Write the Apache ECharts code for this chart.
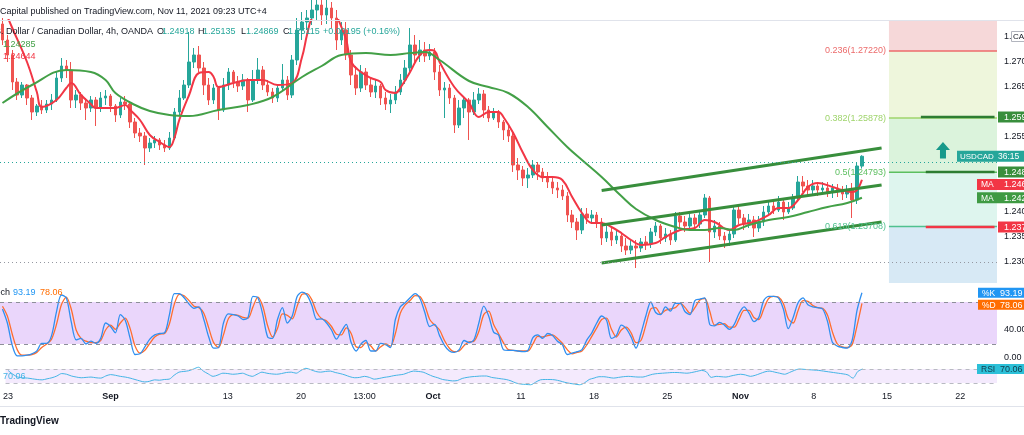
<!DOCTYPE html>
<html><head><meta charset="utf-8">
<script src="https://cdn.jsdelivr.net/npm/echarts@6/dist/echarts.min.js"></script>
<style>html,body{margin:0;padding:0;background:#fff;}#c{width:1024px;height:435px;}</style>
</head><body><div id="c"></div>
<script>
const FONT = "'Liberation Sans', Arial, sans-serif";
const SLOT_COUNT = 203; // 8h slots from Aug 23 to past Nov 22
const timeTicks = [[0,'23'],[21,'Sep'],[45,'13'],[60,'20'],[73,'13:00'],[87,'Oct'],[105,'11'],[120,'18'],[135,'25'],[150,'Nov'],[165,'8'],[180,'15'],[195,'22']];
const monthLabels = ['Sep','Oct','Nov'];

// [open, close, low, high]
const candles = [
[1.2776,1.2744,1.2734,1.2788],[1.2744,1.2714,1.2700,1.2754],[1.2714,1.2660,1.2644,1.2724],[1.2660,1.2634,1.2624,1.2668],[1.2634,1.2654,1.2628,1.2660],
[1.2654,1.2628,1.2614,1.2656],[1.2628,1.2600,1.2584,1.2634],[1.2600,1.2612,1.2592,1.2616],[1.2612,1.2604,1.2596,1.2624],[1.2604,1.2616,1.2598,1.2624],
[1.2616,1.2624,1.2604,1.2636],[1.2624,1.2668,1.2620,1.2680],[1.2668,1.2692,1.2660,1.2708],[1.2692,1.2684,1.2668,1.2704],[1.2684,1.2624,1.2608,1.2700],
[1.2624,1.2634,1.2608,1.2644],[1.2634,1.2618,1.2604,1.2640],[1.2618,1.2608,1.2584,1.2628],[1.2608,1.2624,1.2600,1.2632],[1.2624,1.2608,1.2572,1.2630],
[1.2608,1.2628,1.2600,1.2640],[1.2628,1.2632,1.2614,1.2644],[1.2632,1.2612,1.2600,1.2636],[1.2612,1.2594,1.2580,1.2616],[1.2594,1.2620,1.2588,1.2628],
[1.2620,1.2616,1.2604,1.2632],[1.2616,1.2580,1.2568,1.2620],[1.2580,1.2558,1.2548,1.2588],[1.2558,1.2552,1.2540,1.2568],[1.2552,1.2528,1.2494,1.2560],
[1.2528,1.2538,1.2520,1.2548],[1.2538,1.2544,1.2528,1.2552],[1.2544,1.2534,1.2524,1.2548],[1.2534,1.2528,1.2520,1.2544],[1.2528,1.2548,1.2524,1.2560],
[1.2548,1.2600,1.2544,1.2608],[1.2600,1.2628,1.2594,1.2644],[1.2628,1.2654,1.2624,1.2664],[1.2654,1.2700,1.2648,1.2760],[1.2700,1.2714,1.2688,1.2728],
[1.2714,1.2688,1.2680,1.2732],[1.2688,1.2654,1.2634,1.2700],[1.2654,1.2624,1.2614,1.2668],[1.2624,1.2648,1.2616,1.2656],[1.2648,1.2604,1.2584,1.2652],
[1.2604,1.2654,1.2600,1.2668],[1.2654,1.2680,1.2644,1.2688],[1.2680,1.2660,1.2648,1.2684],[1.2660,1.2652,1.2640,1.2672],[1.2652,1.2664,1.2644,1.2676],
[1.2664,1.2624,1.2600,1.2668],[1.2624,1.2664,1.2620,1.2684],[1.2664,1.2684,1.2656,1.2708],[1.2684,1.2654,1.2644,1.2692],[1.2654,1.2640,1.2632,1.2664],
[1.2640,1.2628,1.2618,1.2648],[1.2628,1.2648,1.2620,1.2656],[1.2648,1.2664,1.2644,1.2696],[1.2664,1.2634,1.2624,1.2672],[1.2634,1.2704,1.2628,1.2714],
[1.2704,1.2764,1.2694,1.2788],[1.2764,1.2780,1.2744,1.2800],[1.2780,1.2788,1.2764,1.2804],[1.2788,1.2804,1.2774,1.2824],[1.2804,1.2814,1.2784,1.2834],
[1.2814,1.2794,1.2774,1.2824],[1.2794,1.2808,1.2776,1.2824],[1.2808,1.2788,1.2768,1.2820],[1.2788,1.2744,1.2724,1.2804],[1.2744,1.2764,1.2734,1.2780],
[1.2764,1.2714,1.2704,1.2780],[1.2714,1.2674,1.2654,1.2724],[1.2674,1.2648,1.2634,1.2692],[1.2648,1.2680,1.2640,1.2694],[1.2680,1.2654,1.2644,1.2688],
[1.2654,1.2640,1.2630,1.2668],[1.2640,1.2652,1.2628,1.2664],[1.2652,1.2628,1.2614,1.2656],[1.2628,1.2616,1.2604,1.2640],[1.2616,1.2624,1.2598,1.2636],
[1.2624,1.2640,1.2616,1.2652],[1.2640,1.2664,1.2634,1.2676],[1.2664,1.2688,1.2656,1.2704],[1.2688,1.2734,1.2680,1.2768],[1.2734,1.2714,1.2700,1.2754],
[1.2714,1.2724,1.2700,1.2744],[1.2724,1.2712,1.2700,1.2740],[1.2712,1.2720,1.2704,1.2736],[1.2720,1.2680,1.2664,1.2728],[1.2680,1.2644,1.2632,1.2694],
[1.2644,1.2648,1.2588,1.2660],[1.2648,1.2628,1.2616,1.2656],[1.2628,1.2574,1.2558,1.2634],[1.2574,1.2608,1.2568,1.2624],[1.2608,1.2624,1.2588,1.2632],
[1.2624,1.2600,1.2544,1.2628],[1.2600,1.2624,1.2594,1.2640],[1.2624,1.2636,1.2616,1.2648],[1.2636,1.2604,1.2588,1.2644],[1.2604,1.2588,1.2580,1.2612],
[1.2588,1.2600,1.2584,1.2608],[1.2600,1.2580,1.2568,1.2604],[1.2580,1.2564,1.2544,1.2584],[1.2564,1.2552,1.2540,1.2572],[1.2552,1.2494,1.2480,1.2560],
[1.2494,1.2484,1.2464,1.2508],[1.2484,1.2468,1.2452,1.2492],[1.2468,1.2474,1.2448,1.2488],[1.2474,1.2494,1.2468,1.2504],[1.2494,1.2480,1.2464,1.2500],
[1.2480,1.2468,1.2460,1.2488],[1.2468,1.2460,1.2448,1.2480],[1.2460,1.2448,1.2436,1.2472],[1.2448,1.2444,1.2428,1.2460],[1.2444,1.2432,1.2424,1.2454],
[1.2432,1.2394,1.2380,1.2440],[1.2394,1.2380,1.2368,1.2404],[1.2380,1.2364,1.2344,1.2388],[1.2364,1.2396,1.2356,1.2408],[1.2396,1.2388,1.2376,1.2408],
[1.2388,1.2394,1.2376,1.2404],[1.2394,1.2380,1.2368,1.2400],[1.2380,1.2348,1.2334,1.2388],[1.2348,1.2360,1.2340,1.2372],[1.2360,1.2344,1.2332,1.2368],
[1.2344,1.2352,1.2336,1.2364],[1.2352,1.2332,1.2320,1.2360],[1.2332,1.2324,1.2314,1.2348],[1.2324,1.2332,1.2316,1.2344],[1.2332,1.2328,1.2288,1.2344],
[1.2328,1.2340,1.2320,1.2348],[1.2340,1.2336,1.2324,1.2352],[1.2336,1.2360,1.2328,1.2368],[1.2360,1.2372,1.2352,1.2380],[1.2372,1.2348,1.2336,1.2376],
[1.2348,1.2356,1.2340,1.2368],[1.2356,1.2344,1.2334,1.2364],[1.2344,1.2392,1.2340,1.2400],[1.2392,1.2380,1.2368,1.2400],[1.2380,1.2372,1.2360,1.2392],
[1.2372,1.2388,1.2364,1.2396],[1.2388,1.2376,1.2364,1.2396],[1.2376,1.2394,1.2368,1.2404],[1.2394,1.2428,1.2388,1.2436],[1.2428,1.2360,1.2300,1.2432],
[1.2360,1.2372,1.2348,1.2384],[1.2372,1.2352,1.2344,1.2380],[1.2352,1.2344,1.2328,1.2360],[1.2344,1.2356,1.2332,1.2364],[1.2356,1.2404,1.2348,1.2412],
[1.2404,1.2388,1.2376,1.2412],[1.2388,1.2376,1.2364,1.2396],[1.2376,1.2384,1.2368,1.2396],[1.2384,1.2368,1.2350,1.2392],[1.2368,1.2380,1.2360,1.2392],
[1.2380,1.2400,1.2372,1.2412],[1.2400,1.2412,1.2392,1.2424],[1.2412,1.2404,1.2396,1.2424],[1.2404,1.2420,1.2400,1.2432],[1.2420,1.2400,1.2384,1.2428],
[1.2400,1.2408,1.2396,1.2420],[1.2408,1.2428,1.2404,1.2436],[1.2428,1.2460,1.2424,1.2472],[1.2460,1.2452,1.2440,1.2472],[1.2452,1.2444,1.2432,1.2464],
[1.2444,1.2452,1.2436,1.2464],[1.2452,1.2444,1.2432,1.2460],[1.2444,1.2448,1.2436,1.2460],[1.2448,1.2440,1.2430,1.2460],[1.2440,1.2448,1.2428,1.2456],
[1.2448,1.2442,1.2430,1.2456],[1.2442,1.2436,1.2424,1.2452],[1.2436,1.2444,1.2428,1.2454],[1.2444,1.2424,1.2388,1.2458],[1.2424,1.2492,1.2416,1.2500],
[1.24918,1.25115,1.24869,1.25135]
];

// [slot, value]
const maFast = [[0,1.2814],[2,1.2768],[5,1.2700],[7,1.2640],[8,1.2610],[11,1.2624],[13,1.2648],[14,1.2658],[16,1.2634],[18,1.2616],[19,1.2608],[23,1.2608],[25,1.2614],[26,1.2604],[28,1.2584],[30,1.2554],[32,1.2540],[34,1.2530],[35,1.2548],[36,1.2584],[38,1.2634],[40,1.2678],[42,1.2680],[43,1.2670],[44,1.2650],[47,1.2658],[50,1.2664],[53,1.2664],[56,1.2654],[59,1.2658],[61,1.2710],[62,1.2754],[63,1.2788],[65,1.2814],[67,1.2818],[68,1.2794],[70,1.2744],[71,1.2700],[73,1.2680],[75,1.2668],[77,1.2660],[78,1.2644],[80,1.2638],[81,1.2648],[83,1.2680],[85,1.2714],[87,1.2724],[88,1.2722],[89,1.2700],[92,1.2650],[95,1.2618],[97,1.2590],[99,1.2600],[101,1.2600],[102,1.2590],[104,1.2558],[106,1.2518],[108,1.2484],[110,1.2470],[112,1.2470],[114,1.2464],[116,1.2430],[118,1.2398],[120,1.2378],[122,1.2378],[124,1.2370],[126,1.2358],[128,1.2344],[130,1.2334],[133,1.2338],[135,1.2350],[138,1.2364],[141,1.2368],[143,1.2384],[145,1.2380],[148,1.2364],[150,1.2374],[153,1.2380],[156,1.2394],[158,1.2408],[160,1.2408],[162,1.2424],[164,1.2450],[166,1.2458],[169,1.2450],[171,1.2444],[173,1.2440],[174,1.2444],[175,1.24644]];
const maSlow = [[0,1.2618],[6,1.2654],[13,1.2684],[18,1.2680],[21,1.2664],[23,1.2638],[27,1.2614],[30,1.2602],[34,1.2594],[38,1.2592],[44,1.2604],[50,1.2614],[55,1.2630],[61,1.2670],[65,1.2692],[69,1.2714],[74,1.2718],[79,1.2714],[83,1.2718],[86,1.2720],[89,1.2704],[95,1.2662],[99,1.2650],[103,1.2638],[107,1.2610],[111,1.2570],[115,1.2530],[118,1.2504],[122,1.2470],[126,1.2432],[129,1.2406],[133,1.2384],[137,1.2370],[140,1.2364],[143,1.2364],[146,1.2368],[149,1.2364],[152,1.2374],[156,1.2384],[160,1.2390],[164,1.2400],[168,1.2410],[172,1.2418],[175,1.24285]];

const stochK = [70,50,18,3,3,4,6,10,21,21, 32,66,90,86,52,26,28,20,24,21, 28,50,45,36,62,54,28,5,6,16, 27,33,35,36,62,92,92,86,77,71, 73,55,30,14,15,50,63,62,60,55, 58,88,86,62,30,28,55,72,50,60, 88,94,90,75,55,56,50,40,27,38, 48,22,10,20,25,10,10,21,19,15, 55,73,79,86,92,85,65,45,48,32, 18,10,8,12,25,22,26,50,74,60, 37,33,12,11,11,10,9,11,29,33, 28,35,32,24,19,5,7,9,12,26, 36,50,60,54,28,32,47,42,30,14, 35,60,80,65,62,73,67,78,78,66, 62,82,84,86,48,46,51,47,41,48, 64,73,64,52,58,82,88,88,86,70, 42,58,79,86,76,73,72,70,52,22, 17,15,14,25,68,93.19];
const stochD = [74,60,34,12,4,4,5,8,15,20, 27,48,76,87,70,40,28,24,22,22, 25,40,47,41,50,57,42,17,7,11, 21,30,34,35,49,77,91,89,82,74, 72,64,43,22,15,33,56,62,61,58, 57,73,87,74,46,30,42,63,61,56, 74,91,92,83,65,56,53,45,34,33, 43,35,16,15,22,17,10,16,20,17, 35,64,76,82,89,88,75,55,47,40, 25,14,9,10,18,23,24,38,62,67, 48,35,22,12,11,10,10,10,20,31, 30,32,33,28,21,12,6,8,10,19, 31,43,55,57,41,30,40,44,36,22, 25,47,70,72,63,68,70,72,78,72, 64,72,83,85,67,47,48,49,44,44, 56,68,68,58,55,70,85,88,87,78, 56,50,68,82,81,75,72,71,61,37, 20,16,15,19,46,78.06];
const rsi = [66,55,47,45,44,42,40,39,42,45, 50,57,55,50,47,45,46,47,45,44, 50,54,52,49,47,44,40,36,33,35, 39,38,40,41,52,61,63,65,70,75, 64,56,49,53,58,57,55,56,58,53, 49,55,61,58,56,55,57,60,61,58, 66,72,68,63,61,63,64,60,57,53, 48,45,46,49,46,41,43,46,48,51, 53,55,60,64,63,61,55,49,45,40, 38,36,37,43,46,48,49,50,50,46, 44,42,40,36,30,27,26,25,32,39, 40,40,39,36,32,29,27,25,30,40, 44,48,48,46,44,46,48,49,48,47, 47,51,55,57,58,59,60,60,59,58, 60,63,66,62,46,49,48,47,50,53, 55,53,49,52,57,62,64,61,58,55, 60,66,70,69,68,67,66,64,62,60, 58,56,53,44,63,70.06];

const channelUpper = [[122,1.2443],[179,1.2528]];
const channelMiddle = [[122,1.2374],[179,1.2454]];
const channelLower = [[122,1.2298],[179,1.2380]];
const fibRatios = ['0.236','0.382','0.5','0.618'];
const fibPrices = [1.27220,1.25878,1.24793,1.23708];
const targetPrices = [1.2590,1.2480,1.2370];
const targetStartSlots = [187,188,188];
const lastPrice = 1.25115;
const rangeLow = 1.2288;
const priceTicks = [1.230,1.235,1.240,1.255,1.265,1.270,1.275];
const stochTicks = [0,40];
const stochBands = [80,20];
const rsiBands = [70,30];

const PRICE_MIN = 1.2258, PRICE_MAX = 1.2784;
const slotNames = Array.from({length: SLOT_COUNT}, (_, i) => 's' + i);
const tickMap = new Map(timeTicks);

const xAxes = [0,1,2].map(k => ({
  type: 'category', gridIndex: k, data: slotNames, boundaryGap: true,
  axisLine: {show: false}, axisTick: {show: false}, splitLine: {show: false},
  axisLabel: k === 2 ? {
    show: true, interval: (i) => tickMap.has(i), margin: 2,
    formatter: (v, i) => { const t = tickMap.get(i) || ''; return monthLabels.includes(t) ? '{b|' + t + '}' : t; },
    fontSize: 9, color: '#131722', fontFamily: FONT,
    rich: {b: {fontWeight: 'bold', fontSize: 9, color: '#131722', fontFamily: FONT}}
  } : {show: false}
}));
const hiddenY = (k, min, max) => ({type: 'value', gridIndex: k, min, max, position: 'right', axisLine: {show: false}, axisTick: {show: false}, axisLabel: {show: false}, splitLine: {show: false}});

const targetColors = ['#2e7d32', '#2e7d32', '#f23645'];
const series = [
  {type: 'candlestick', xAxisIndex: 0, yAxisIndex: 0, data: candles, barWidth: 3, clip: true,
    itemStyle: {color: '#26a69a', color0: '#ef5350', borderColor: '#26a69a', borderColor0: '#ef5350', borderWidth: 1},
    markLine: {silent: true, symbol: ['none','none'], label: {show: false}, animation: false,
      data: [
        {yAxis: lastPrice, lineStyle: {type: [1,3], color: '#26a69a', width: 1}},
        {yAxis: rangeLow, lineStyle: {type: [1,3], color: '#9598a1', width: 1}}
      ]}},
  {type: 'line', xAxisIndex: 0, yAxisIndex: 0, data: maFast, smooth: 0.4, showSymbol: false, clip: true, lineStyle: {color: '#f23645', width: 2}, z: 3},
  {type: 'line', xAxisIndex: 0, yAxisIndex: 0, data: maSlow, smooth: 0.4, showSymbol: false, clip: true, lineStyle: {color: '#43a047', width: 2}, z: 3}
];
[channelUpper, channelMiddle, channelLower].forEach(d => series.push({type: 'line', xAxisIndex: 0, yAxisIndex: 0, data: d, showSymbol: false, lineStyle: {color: '#388e3c', width: 3}, z: 4}));
targetPrices.forEach((p, k) => series.push({type: 'line', xAxisIndex: 0, yAxisIndex: 0, data: [[targetStartSlots[k], p], [SLOT_COUNT - 1, p]], showSymbol: false, lineStyle: {color: targetColors[k], width: 2.5}, z: 5}));
series.push({type: 'line', xAxisIndex: 1, yAxisIndex: 1, data: stochK, showSymbol: false, smooth: 0.3, lineStyle: {color: '#2f8ff0', width: 1.3}, z: 4,
  markArea: {silent: true, itemStyle: {color: '#ead6fb'}, data: [[{yAxis: stochBands[0]}, {yAxis: stochBands[1]}]]},
  markLine: {silent: true, symbol: ['none','none'], label: {show: false}, lineStyle: {type: [4,4], color: '#8d8f99', width: 1}, data: stochBands.map(v => ({yAxis: v}))}});
series.push({type: 'line', xAxisIndex: 1, yAxisIndex: 1, data: stochD, showSymbol: false, smooth: 0.3, lineStyle: {color: '#ff6d2e', width: 1.3}, z: 3});
series.push({type: 'line', xAxisIndex: 2, yAxisIndex: 2, data: rsi, showSymbol: false, smooth: 0.3, lineStyle: {color: '#45b5e6', width: 1}, z: 4,
  markArea: {silent: true, itemStyle: {color: '#f4eafd'}, data: [[{yAxis: rsiBands[0]}, {yAxis: rsiBands[1]}]]},
  markLine: {silent: true, symbol: ['none','none'], label: {show: false}, lineStyle: {type: [4,4], color: '#b8bac2', width: 1}, data: rsiBands.map(v => ({yAxis: v}))}});

const option = {
  animation: false,
  backgroundColor: '#ffffff',
  grid: [
    {left: 0, right: 27, top: 20, height: 263},
    {left: 0, right: 27, top: 288, height: 70},
    {left: 0, right: 27, top: 359, height: 31}
  ],
  xAxis: xAxes,
  yAxis: [hiddenY(0, PRICE_MIN, PRICE_MAX), hiddenY(1, 0, 100), hiddenY(2, 10, 98.6)],
  series
};

const chart = echarts.init(document.getElementById('c'));
chart.setOption(option);

const px = (k, slot, v) => chart.convertToPixel({gridIndex: k}, [slot, v]);
function txt(text, x, y, color, o) {
  o = o || {};
  const a = o.align || 'left';
  return {type: 'text', z: o.z || 60, silent: true, style: {text, x, y, fill: color, fontSize: o.size || 9, fontFamily: FONT, fontWeight: o.weight || 'normal', align: a, textAlign: a, verticalAlign: 'middle', textVerticalAlign: 'middle'}};
}
function rect(x, y, w, h, fill, z, stroke) {
  return {type: 'rect', z: z, silent: true, shape: {x, y, width: w, height: h}, style: {fill, stroke: stroke || null, lineWidth: stroke ? 1 : 0}};
}
function hline(x1, x2, y, color, w, z) {
  return {type: 'line', z: z, silent: true, shape: {x1, y1: y, x2, y2: y}, style: {stroke: color, lineWidth: w}};
}

const g = [];
const slotW = px(0, 1, PRICE_MIN)[0] - px(0, 0, PRICE_MIN)[0];
const xL = (px(0, 180, PRICE_MIN)[0] + px(0, 181, PRICE_MIN)[0]) / 2;
const xR = px(0, SLOT_COUNT - 1, PRICE_MIN)[0] + slotW / 2;
const yOf = (p) => px(0, 0, p)[1];

// Fibonacci zones
const zoneBounds = [PRICE_MAX].concat(fibPrices, [PRICE_MIN]);
const zoneColors = ['#f6d8d9', '#eef6dc', '#dbf3dc', '#def5ee', '#d7e9f5'];
for (let k = 0; k < zoneColors.length; k++) {
  const y0 = yOf(zoneBounds[k]), y1 = yOf(zoneBounds[k + 1]);
  g.push(rect(xL, y0, xR - xL, y1 - y0, zoneColors[k], 0));
}
const fibColors = ['#ec6b6b', '#9fd46c', '#5cbf5f', '#4fc18f'];
fibPrices.forEach((p, k) => {
  const y = yOf(p);
  g.push(hline(xL, xR, y, fibColors[k], 1.5, 1));
  g.push(txt(fibRatios[k] + '(' + p.toFixed(5) + ')', xL - 3, y, fibColors[k], {align: 'right', z: 10}));
});

// up arrow
const xa = (px(0, 191, lastPrice)[0] + px(0, 192, lastPrice)[0]) / 2;
const yTop = yOf(1.2540), yMid = yOf(1.2524), yBot = yOf(1.2507);
g.push({type: 'polygon', z: 20, silent: true, shape: {points: [[xa, yTop], [xa + 7, yMid], [xa + 3, yMid], [xa + 3, yBot], [xa - 3, yBot], [xa - 3, yMid], [xa - 7, yMid]]}, style: {fill: '#17998a'}});

// price axis labels
priceTicks.forEach(v => g.push(txt(v.toFixed(4), 1004, yOf(v), '#131722', {z: 30})));

// right-side value labels, stacked to avoid overlap
const maFastLast = maFast[maFast.length - 1][1], maSlowLast = maSlow[maSlow.length - 1][1];
const rl = [
  {p: targetPrices[0], x0: 998, bg: '#388e3c', parts: [[targetPrices[0].toFixed(4), 1004, 9]]},
  {p: lastPrice, x0: 957, bg: '#26a69a', parts: [['USDCAD', 960, 8], ['36:15', 998, 8.5]]},
  {p: targetPrices[1], x0: 998, bg: '#388e3c', parts: [[targetPrices[1].toFixed(4), 1004, 9]]},
  {p: maFastLast, x0: 977, bg: '#f23645', parts: [['MA', 981, 8.5], [maFastLast.toFixed(4), 1004, 9]]},
  {p: maSlowLast, x0: 977, bg: '#3f9a43', parts: [['MA', 981, 8.5], [maSlowLast.toFixed(4), 1004, 9]]},
  {p: targetPrices[2], x0: 998, bg: '#f23645', parts: [[targetPrices[2].toFixed(4), 1004, 9]]}
].map(o => Object.assign(o, {y: yOf(o.p)})).sort((a, b) => a.y - b.y);
for (let k = 1; k < rl.length; k++) if (rl[k].y < rl[k - 1].y + 12.5) rl[k].y = rl[k - 1].y + 12.5;
rl.forEach(o => {
  g.push(rect(o.x0, o.y - 5.5, 1024 - o.x0, 11, o.bg, 40));
  o.parts.forEach(pt => g.push(txt(pt[0], pt[1], o.y + 0.5, '#ffffff', {z: 41, size: pt[2]})));
});

// stochastic / RSI labels
const yS = (v) => px(1, 0, v)[1];
const yR = (v) => px(2, 0, v)[1];
stochTicks.forEach(v => g.push(txt(v.toFixed(2), 1004, yS(v), '#131722', {z: 30})));
const kLast = stochK[stochK.length - 1], dLast = stochD[stochD.length - 1], rLast = rsi[rsi.length - 1];
const ky = yS(kLast), dy = Math.max(yS(dLast), ky + 12);
g.push(rect(978, ky - 5, 46, 10, '#2196f3', 40), txt('%K', 982, ky + 0.5, '#fff', {z: 41, size: 8.5}), txt(kLast.toFixed(2), 1000, ky + 0.5, '#fff', {z: 41}));
g.push(rect(978, dy - 5, 46, 10, '#ff6d00', 40), txt('%D', 982, dy + 0.5, '#fff', {z: 41, size: 8.5}), txt(dLast.toFixed(2), 1000, dy + 0.5, '#fff', {z: 41}));
const ry = yR(rLast);
g.push(rect(977, ry - 5, 47, 10, '#2cc0d8', 40), txt('RSI', 981, ry + 0.5, '#123a4a', {z: 41, size: 8.5}), txt(rLast.toFixed(2), 1000, ry + 0.5, '#123a4a', {z: 41}));

// header & legends
g.push(hline(0, 1024, 20.5, '#e0e3eb', 1, 5));
g.push(txt('Capital published on TradingView.com, Nov 11, 2021 09:23 UTC+4', 0, 12, '#131722', {size: 9}));
g.push(txt('U.S. Dollar / Canadian Dollar, 4h, OANDA', -14, 32, '#131722', {z: 61}));
const last = candles[candles.length - 1];
[['O', last[0], 157], ['H', last[3], 198], ['L', last[2], 241], ['C', last[1], 283]].forEach(t => {
  g.push(txt(t[0], t[2], 32, '#131722', {z: 61}));
  g.push(txt(t[1].toFixed(5), t[2] + 5, 32, '#26a69a', {z: 61}));
});
g.push(txt('+0.00195 (+0.16%)', 323, 32, '#26a69a', {z: 61}));
g.push(txt(maSlowLast.toFixed(5), 3, 45, '#43a047', {z: 61}));
g.push(txt(maFastLast.toFixed(5), 3, 57, '#f23645', {z: 61}));
g.push(txt('Stoch', 10, 293, '#131722', {align: 'right', z: 61}));
g.push(txt(kLast.toFixed(2), 13, 293, '#2196f3', {z: 61}));
g.push(txt(dLast.toFixed(2), 40, 293, '#ff6d00', {z: 61}));
g.push(txt(rLast.toFixed(2), 3, 377, '#45b5e6', {z: 61}));
g.push(rect(1011.5, 31.5, 14, 10, '#ffffff', 40, '#b2b5be'), txt('CAD', 1013, 36.5, '#131722', {z: 41, size: 8}));
g.push(hline(0, 1024, 406.5, '#e0e3eb', 1, 5));
g.push(txt('TradingView', 0, 421, '#131722', {size: 10, weight: 'bold'}));

chart.setOption({graphic: {elements: g}});
</script>
</body></html>
